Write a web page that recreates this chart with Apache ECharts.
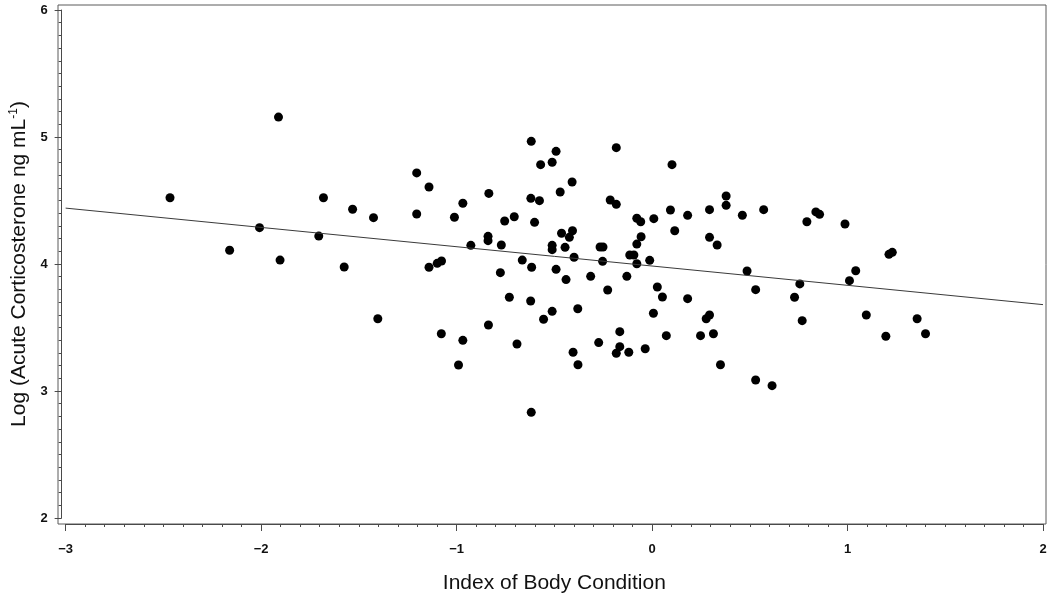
<!DOCTYPE html>
<html>
<head>
<meta charset="utf-8">
<script src="https://cdn.jsdelivr.net/npm/echarts@6/dist/echarts.min.js"></script>
<style>
  html, body { margin: 0; padding: 0; background: #fff; }
  #chart { width: 1054px; height: 605px; }
</style>
</head>
<body>
<div id="chart"></div>
<script>
// 体况指数 vs 急性皮质酮（对数）
const bodyIndex = [
  -1.911, -2.466, -1.681, -1.532, -1.425, -2.008, -1.705, -2.161, -1.903, -1.575, -1.403,
  -0.618, -0.491, -0.183, -0.570, -0.511, 0.102, -1.204, -1.141, -0.409, -0.835,
  -0.470, -0.968, -0.620, -0.576, -0.214, -0.183, -1.204, -1.011, -0.754, -0.705,
  -0.601, -0.078, -0.058, 0.009, 0.094, 0.182, 0.294, 0.116, 0.294, 0.333,
  -0.839, -0.839, -0.927, -0.771, -0.463, -0.407, -0.423, -0.511, -0.511, -0.445,
  -0.266, -0.251, -0.056, -0.078, -0.114, -0.093, -0.078, -0.012, -0.253, -0.399,
  -0.664, -0.616, -0.491, -0.440, -0.314, -0.129, -0.776, -1.141, -1.099, -1.077,
  -0.227, 0.027, 0.053, 0.182, -0.730, -0.621, -0.511, -0.555, -0.380, 0.007,
  0.277, 0.294, -1.078, -0.968, -0.837, -0.691, -0.165, -0.273, 0.073, 0.248,
  0.314, -0.165, -0.183, -0.119, -0.035, -0.404, -0.379, -0.990, 0.350, -0.618,
  0.379, 0.379, 0.462, 0.571, 0.792, 0.838, 0.857, 0.987, 1.212, 1.229,
  0.486, 1.042, 1.010, 0.530, 0.756, 0.729, 0.768, 1.096, 1.356, 1.399,
  1.196, 0.530, 0.614
];
const logCort = [
  5.157, 4.522, 4.522, 4.431, 4.365, 4.286, 4.220, 4.108, 4.031, 3.976, 3.569,
  4.966, 4.887, 4.916, 4.782, 4.801, 4.782, 4.717, 4.606, 4.646, 4.556,
  4.567, 4.478, 4.517, 4.499, 4.504, 4.470, 4.394, 4.368, 4.339, 4.372,
  4.328, 4.360, 4.333, 4.357, 4.425, 4.383, 4.428, 4.262, 4.210, 4.150,
  4.218, 4.184, 4.147, 4.150, 4.242, 4.262, 4.210, 4.147, 4.113, 4.131,
  4.134, 4.134, 4.215, 4.157, 4.071, 4.071, 4.002, 4.029, 4.021, 4.053,
  4.031, 3.974, 3.958, 3.877, 3.903, 3.903, 3.932, 3.974, 4.005, 4.024,
  3.795, 3.819, 3.740, 3.727, 3.738, 3.709, 3.627, 3.565, 3.648, 3.612,
  3.569, 3.598, 3.451, 3.399, 3.520, 3.370, 3.467, 3.381, 3.436, 3.436,
  3.451, 3.349, 3.297, 3.305, 3.333, 3.305, 3.207, 3.205, 3.207, 2.832,
  4.535, 4.462, 4.384, 4.428, 4.333, 4.410, 4.391, 4.315, 4.076, 4.092,
  3.945, 3.947, 3.869, 3.798, 3.843, 3.738, 3.554, 3.598, 3.569, 3.451,
  3.431, 3.087, 3.042
];
// 回归线两端
const fitX = [-3, 2];
const fitY = [4.44, 3.68];

const xTicks = { min: -3, max: 2, interval: 1 };
const yTicks = { min: 2, max: 6, interval: 1 };

const points = bodyIndex.map((x, i) => [x, logCort[i]]);
const fitLine = fitX.map((x, i) => [x, fitY[i]]);

const axisColor = '#4a4a4a';
const fontFamily = 'Liberation Sans, Arial, sans-serif';
const labelFont = { color: '#111', fontWeight: 'bold', fontSize: 13, fontFamily };
const nameFont = { color: '#111', fontSize: 21, fontFamily };
const minus = (v) => String(v).replace('-', '\u2212');

const chart = echarts.init(document.getElementById('chart'));
chart.setOption({
  animation: false,
  backgroundColor: '#fff',
  grid: [
    { left: 62, right: 11, top: 10, bottom: 87 },
    // 外框
    { left: 58, right: 8, top: 5, bottom: 81, show: true, borderColor: '#5a5a5a', borderWidth: 1, backgroundColor: 'transparent' }
  ],
  xAxis: [
    {
      type: 'value', gridIndex: 0, ...xTicks, offset: 6,
      name: 'Index of Body Condition', nameLocation: 'middle', nameGap: 49, nameTextStyle: nameFont,
      axisLine: { show: true, onZero: false, lineStyle: { color: axisColor } },
      axisTick: { show: true, length: 7, lineStyle: { color: axisColor } },
      minorTick: { show: true, splitNumber: 10, length: 3, lineStyle: { color: axisColor } },
      splitLine: { show: false },
      axisLabel: { ...labelFont, margin: 19, formatter: minus }
    },
    { type: 'value', gridIndex: 1, show: false, min: 0, max: 1 }
  ],
  yAxis: [
    {
      type: 'value', gridIndex: 0, ...yTicks, offset: 4,
      name: 'Log (Acute Corticosterone ng mL{sup|-1})', nameLocation: 'middle', nameGap: 30,
      nameTextStyle: { ...nameFont, rich: { sup: { fontSize: 12, verticalAlign: 'top', padding: [0, 0, 10, 0], fontFamily, color: '#111' } } },
      axisLine: { show: true, onZero: false, lineStyle: { color: axisColor } },
      axisTick: { show: true, length: 7, lineStyle: { color: axisColor } },
      minorTick: { show: true, splitNumber: 10, length: 3, lineStyle: { color: axisColor } },
      splitLine: { show: false },
      axisLabel: { ...labelFont, margin: 14 }
    },
    { type: 'value', gridIndex: 1, show: false, min: 0, max: 1 }
  ],
  series: [
    {
      type: 'line', xAxisIndex: 0, yAxisIndex: 0,
      data: fitLine, symbol: 'none',
      lineStyle: { color: '#3a3a3a', width: 1 }
    },
    {
      type: 'scatter', xAxisIndex: 0, yAxisIndex: 0,
      data: points, symbol: 'circle', symbolSize: 9,
      itemStyle: { color: '#000', opacity: 1 }
    }
  ]
});
</script>
</body>
</html>
